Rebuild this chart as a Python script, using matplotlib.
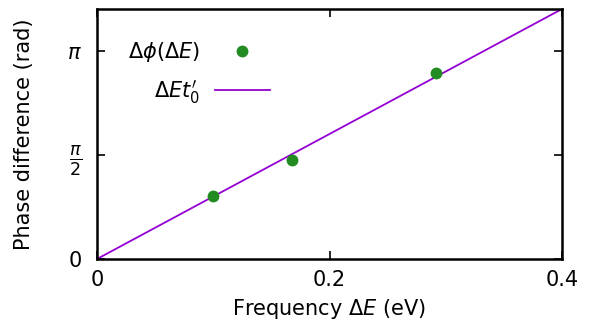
import numpy as np
import matplotlib
matplotlib.use('Agg')
import matplotlib.pyplot as plt

# measured phase differences
dE = [0.1, 0.168, 0.292]
dphi = [0.956, 1.50, 2.814]

# fitted line  dE * t0'
t0 = 9.44
line_x = [0.0, 0.4]

xticks = [0, 0.2, 0.4]
xticklabels = ['0', '0.2', '0.4']
yticks = [0, np.pi / 2, np.pi]
yticklabels = ['0', r'$\frac{\pi}{2}$', r'$\pi$']

plt.rcParams['font.family'] = 'DejaVu Sans'
plt.rcParams['mathtext.fontset'] = 'dejavusans'
plt.rcParams['font.size'] = 15

fig = plt.figure(figsize=(5.92, 3.22), dpi=100)
ax = fig.add_axes([97 / 592, 1 - 259 / 322, 465 / 592, 250 / 322])

ax.plot(dE, dphi, 'o', color='#228b22', markersize=7.5, label=r'$\Delta\phi(\Delta E)$', zorder=3)
ax.plot(line_x, [t0 * v for v in line_x], '-', color='#9400d3', lw=1.3, label=r"$\Delta E t_0'$")

ax.set_xlim(0, 0.4)
ax.set_ylim(0, 0.4 * t0)
ax.set_xticks(xticks)
ax.set_xticklabels(xticklabels)
ax.set_yticks(yticks)
ax.set_yticklabels(yticklabels)
ax.get_yticklabels()[1].set_fontsize(18)
ax.tick_params(direction='in', top=True, right=True, length=6, width=1.2)
ax.tick_params(axis='x', pad=8)
ax.tick_params(axis='y', pad=11)
for s in ax.spines.values():
    s.set_linewidth(1.8)

ax.set_xlabel(r'Frequency $\Delta E$ (eV)', labelpad=5)
ax.set_ylabel('Phase difference (rad)', labelpad=24)

ax.legend(loc='upper right', bbox_to_anchor=(0.372, 0.875), frameon=False, markerfirst=False,
          handlelength=2.64, labelspacing=0.64, handletextpad=0.72, borderaxespad=0, borderpad=0)

fig.savefig('out.png', dpi=100)
